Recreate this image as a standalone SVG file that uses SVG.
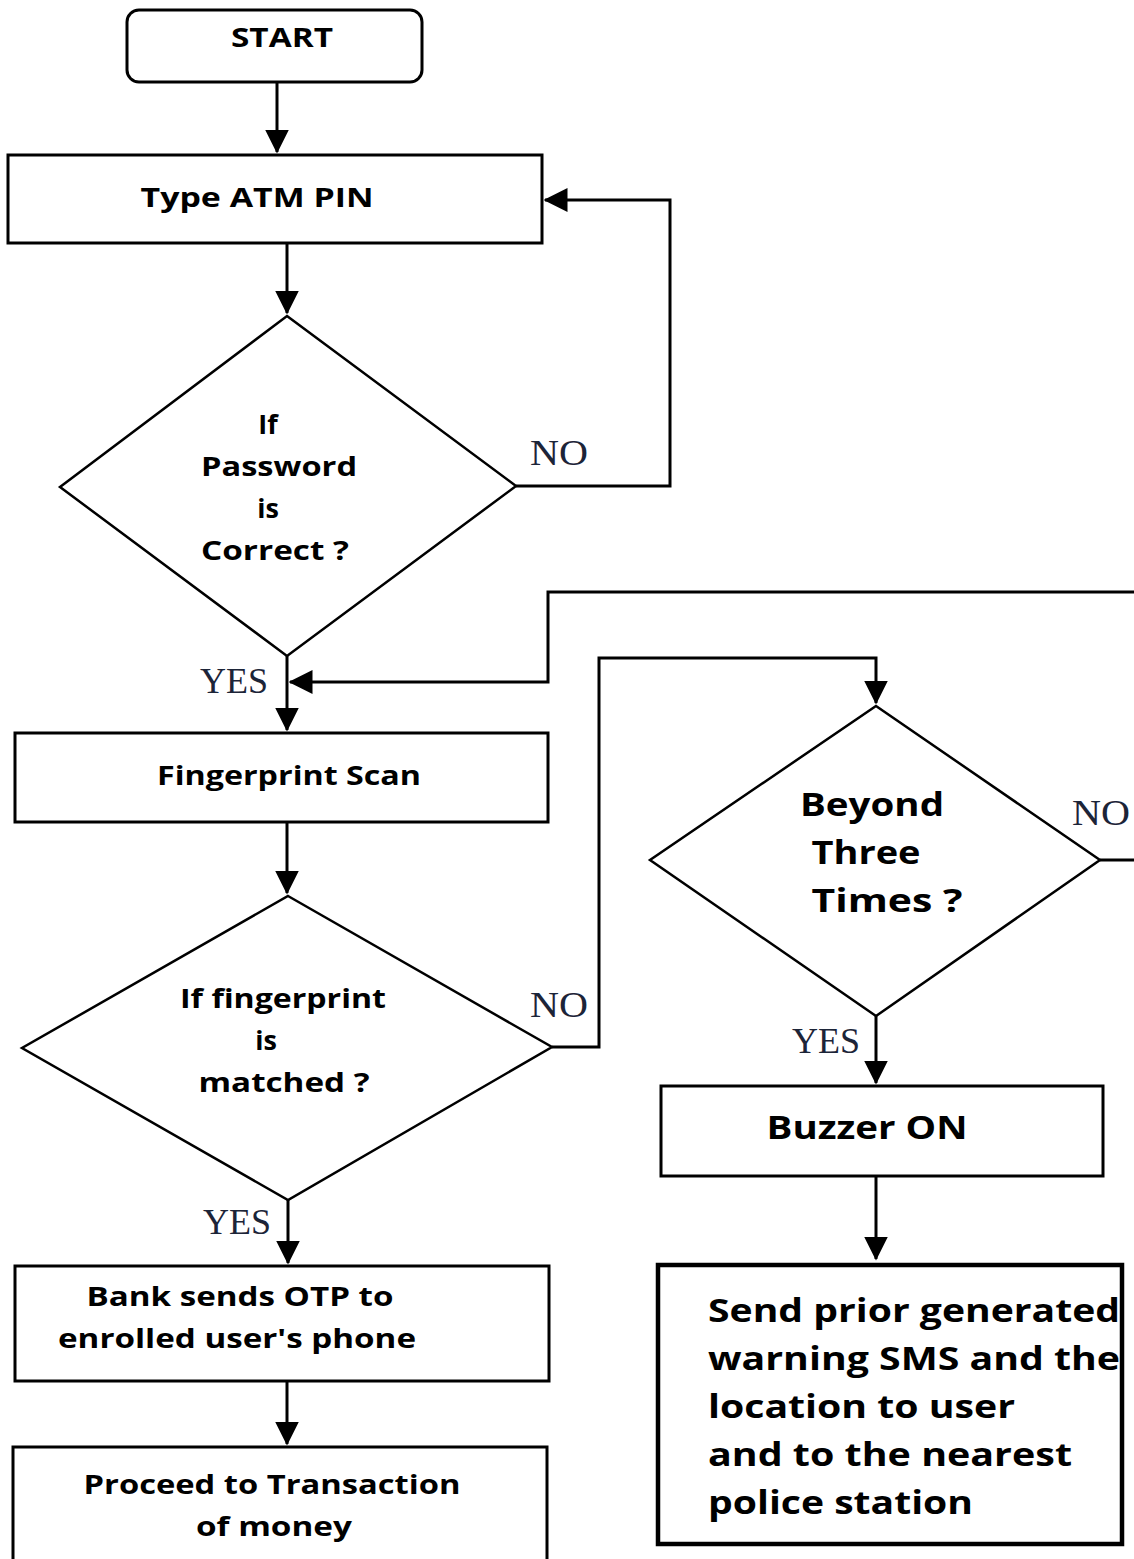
<svg xmlns="http://www.w3.org/2000/svg" width="1134" height="1559" viewBox="0 0 1134 1559">
<defs>
<marker id="ah" markerWidth="8" markerHeight="8" refX="7.5" refY="4" orient="auto" markerUnits="strokeWidth" viewBox="0 0 8 8">
<path d="M0,0 L8,4 L0,8 Z" fill="#000"/>
</marker>
<style>
.box{fill:#fff;stroke:#000;stroke-width:3}
.dia{fill:#fff;stroke:#000;stroke-width:2.5}
.t{font-family:"Open Sans","Liberation Sans",sans-serif;font-weight:700;fill:#000;font-size:27px;text-anchor:middle}
.tl{font-size:33px}
.ls{text-anchor:start}
.lbl{font-family:"Liberation Serif","Times New Roman",serif;fill:#1c2438;font-size:35px}
.c{fill:none;stroke:#000;stroke-width:3}
</style>
</defs>
<rect width="1134" height="1559" fill="#fff"/>

<g id="connectors">
<path class="c" d="M277,82 V152" marker-end="url(#ah)"/>
<path class="c" d="M287,243 V313" marker-end="url(#ah)"/>
<path class="c" d="M516,486 H670 V200 H545" marker-end="url(#ah)"/>
<path class="c" d="M287,656 V730" marker-end="url(#ah)"/>
<path class="c" d="M1134,592 H548 V682 H290" marker-end="url(#ah)"/>
<path class="c" d="M287,822 V893" marker-end="url(#ah)"/>
<path class="c" d="M552,1047 H599 V658 H876 V703" marker-end="url(#ah)"/>
<path class="c" d="M1100,860 H1134"/>
<path class="c" d="M876,1016 V1083" marker-end="url(#ah)"/>
<path class="c" d="M876,1176 V1259" marker-end="url(#ah)"/>
<path class="c" d="M288,1200 V1263" marker-end="url(#ah)"/>
<path class="c" d="M287,1381 V1444" marker-end="url(#ah)"/>
<text class="lbl" x="530" y="465" textLength="58" lengthAdjust="spacingAndGlyphs">NO</text>
<text class="lbl" x="200" y="693" textLength="68" lengthAdjust="spacingAndGlyphs">YES</text>
<text class="lbl" x="530" y="1017" textLength="58" lengthAdjust="spacingAndGlyphs">NO</text>
<text class="lbl" x="1072" y="825" textLength="58" lengthAdjust="spacingAndGlyphs">NO</text>
<text class="lbl" x="792" y="1053" textLength="68" lengthAdjust="spacingAndGlyphs">YES</text>
<text class="lbl" x="203" y="1234" textLength="68" lengthAdjust="spacingAndGlyphs">YES</text>
</g>

<g id="start">
<rect class="box" x="127" y="10" width="295" height="72" rx="12"/>
<text class="t" x="282" y="47" textLength="102" lengthAdjust="spacingAndGlyphs">START</text>
</g>

<g id="type-pin">
<rect class="box" x="8" y="155" width="534" height="88"/>
<text class="t" x="257" y="207" textLength="233" lengthAdjust="spacingAndGlyphs">Type ATM PIN</text>
</g>

<g id="password-check">
<polygon class="dia" points="287,316 516,486 287,656 60,487"/>
<text class="t" x="268" y="434">If</text>
<text class="t" x="279" y="476" textLength="156" lengthAdjust="spacingAndGlyphs">Password</text>
<text class="t" x="268" y="518">is</text>
<text class="t" x="275" y="560" textLength="148" lengthAdjust="spacingAndGlyphs">Correct ?</text>
</g>

<g id="fingerprint-scan">
<rect class="box" x="15" y="733" width="533" height="89"/>
<text class="t" x="289" y="785" textLength="264" lengthAdjust="spacingAndGlyphs">Fingerprint Scan</text>
</g>

<g id="fingerprint-check">
<polygon class="dia" points="288,896 552,1047 288,1200 22,1048"/>
<text class="t" x="283" y="1008" textLength="206" lengthAdjust="spacingAndGlyphs">If fingerprint</text>
<text class="t" x="266" y="1050">is</text>
<text class="t" x="284" y="1092" textLength="171" lengthAdjust="spacingAndGlyphs">matched ?</text>
</g>

<g id="beyond-three">
<polygon class="dia" points="876,706 1100,860 876,1016 650,860"/>
<text class="t tl" x="872" y="816" textLength="144" lengthAdjust="spacingAndGlyphs">Beyond</text>
<text class="t tl" x="866" y="864" textLength="109" lengthAdjust="spacingAndGlyphs">Three</text>
<text class="t tl" x="887" y="912" textLength="151" lengthAdjust="spacingAndGlyphs">Times  ?</text>
</g>

<g id="buzzer">
<rect class="box" x="661" y="1086" width="442" height="90"/>
<text class="t tl" x="867" y="1139" textLength="201" lengthAdjust="spacingAndGlyphs">Buzzer ON</text>
</g>

<g id="send-sms">
<rect x="658" y="1265" width="464" height="279" fill="#fff" stroke="#000" stroke-width="4.5"/>
<text class="t tl ls" x="708" y="1322" textLength="412" lengthAdjust="spacingAndGlyphs">Send prior generated</text>
<text class="t tl ls" x="708" y="1370" textLength="412" lengthAdjust="spacingAndGlyphs">warning SMS and the</text>
<text class="t tl ls" x="708" y="1418" textLength="307" lengthAdjust="spacingAndGlyphs">location to user</text>
<text class="t tl ls" x="708" y="1466" textLength="364" lengthAdjust="spacingAndGlyphs">and to the nearest</text>
<text class="t tl ls" x="708" y="1514" textLength="265" lengthAdjust="spacingAndGlyphs">police station</text>
</g>

<g id="bank-otp">
<rect class="box" x="15" y="1266" width="534" height="115"/>
<text class="t" x="240" y="1306" textLength="307" lengthAdjust="spacingAndGlyphs">Bank sends OTP to</text>
<text class="t" x="237" y="1348" textLength="358" lengthAdjust="spacingAndGlyphs">enrolled user's phone</text>
</g>

<g id="proceed">
<rect class="box" x="13" y="1447" width="534" height="120"/>
<text class="t" x="272" y="1494" textLength="377" lengthAdjust="spacingAndGlyphs">Proceed to Transaction</text>
<text class="t" x="274" y="1536" textLength="156" lengthAdjust="spacingAndGlyphs">of money</text>
</g>
</svg>
